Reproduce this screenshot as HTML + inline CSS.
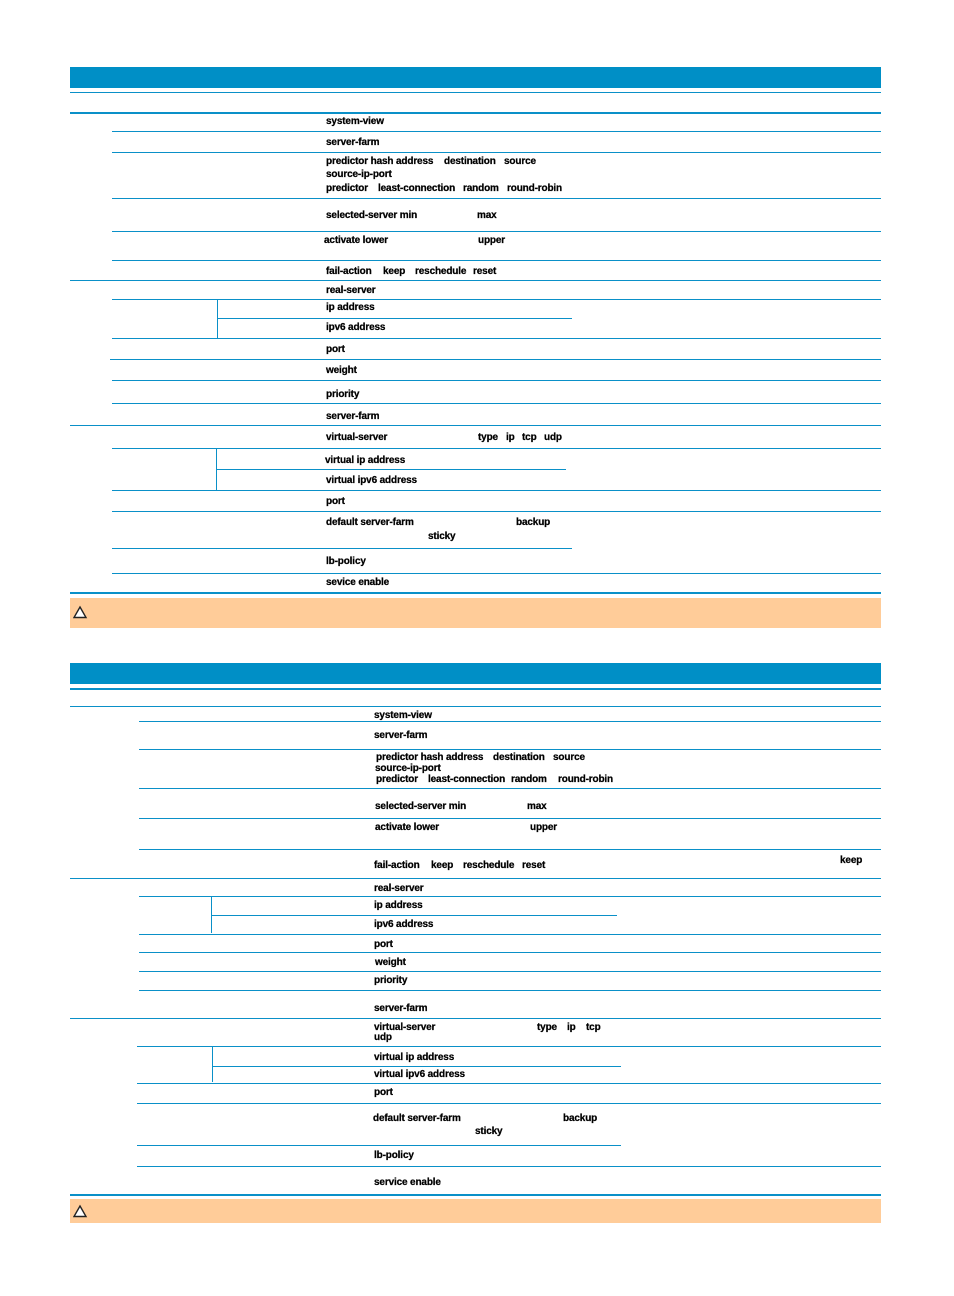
<!DOCTYPE html>
<html>
<head>
<meta charset="utf-8">
<style>
html,body{margin:0;padding:0;background:#fff;}
body{width:954px;height:1296px;position:relative;overflow:hidden;font-family:"Liberation Sans",sans-serif;}
.b{position:absolute;background:#0a90c8;}
.hd{position:absolute;background:#008fc6;}
.t{position:absolute;font-size:10px;font-weight:bold;line-height:12px;color:#000;white-space:pre;letter-spacing:-0.15px;margin-top:1px;-webkit-text-stroke:0.25px #000;}
.o{position:absolute;background:#ffcc99;}
</style>
</head>
<body>
<!-- TABLE 1 -->
<div class="hd" style="left:70px;top:67px;width:811px;height:21px;"></div>
<div class="b" style="left:70px;top:92px;width:811px;height:1px;"></div>
<div class="b" style="left:70px;top:112px;width:811px;height:2px;"></div>
<div class="b" style="left:112px;top:131px;width:769px;height:1px;"></div>
<div class="b" style="left:112px;top:152px;width:769px;height:1px;"></div>
<div class="b" style="left:112px;top:198px;width:769px;height:1px;"></div>
<div class="b" style="left:112px;top:231px;width:769px;height:1px;"></div>
<div class="b" style="left:112px;top:260px;width:769px;height:1px;"></div>
<div class="b" style="left:70px;top:280px;width:811px;height:1px;"></div>
<div class="b" style="left:112px;top:299px;width:769px;height:1px;"></div>
<div class="b" style="left:217px;top:299px;width:1px;height:40px;"></div>
<div class="b" style="left:217px;top:318px;width:355px;height:1px;"></div>
<div class="b" style="left:112px;top:338px;width:769px;height:1px;"></div>
<div class="b" style="left:110px;top:359px;width:771px;height:1px;"></div>
<div class="b" style="left:112px;top:380px;width:769px;height:1px;"></div>
<div class="b" style="left:112px;top:403px;width:769px;height:1px;"></div>
<div class="b" style="left:70px;top:425px;width:811px;height:1px;"></div>
<div class="b" style="left:112px;top:448px;width:769px;height:1px;"></div>
<div class="b" style="left:216px;top:448px;width:1px;height:42px;"></div>
<div class="b" style="left:216px;top:469px;width:350px;height:1px;"></div>
<div class="b" style="left:112px;top:490px;width:769px;height:1px;"></div>
<div class="b" style="left:112px;top:511px;width:769px;height:1px;"></div>
<div class="b" style="left:112px;top:548px;width:460px;height:1px;"></div>
<div class="b" style="left:112px;top:573px;width:769px;height:1px;"></div>
<div class="b" style="left:70px;top:592px;width:811px;height:2px;"></div>
<div class="o" style="left:70px;top:598px;width:811px;height:30px;"></div>
<svg style="position:absolute;left:73px;top:605px" width="15" height="15"><polygon points="7,2 13,12.5 1,12.5" fill="#fff" stroke="#222" stroke-width="1.4"/></svg>

<div class="t" style="left:326px;top:115px;">system-view</div>
<div class="t" style="left:326px;top:136px;">server-farm</div>
<div class="t" style="left:326px;top:155px;">predictor hash address</div>
<div class="t" style="left:444px;top:155px;">destination</div>
<div class="t" style="left:504px;top:155px;">source</div>
<div class="t" style="left:326px;top:168px;">source-ip-port</div>
<div class="t" style="left:326px;top:182px;">predictor</div>
<div class="t" style="left:378px;top:182px;">least-connection</div>
<div class="t" style="left:463px;top:182px;">random</div>
<div class="t" style="left:507px;top:182px;">round-robin</div>
<div class="t" style="left:326px;top:209px;">selected-server min</div>
<div class="t" style="left:477px;top:209px;">max</div>
<div class="t" style="left:324px;top:234px;">activate lower</div>
<div class="t" style="left:478px;top:234px;">upper</div>
<div class="t" style="left:326px;top:265px;">fail-action</div>
<div class="t" style="left:383px;top:265px;">keep</div>
<div class="t" style="left:415px;top:265px;">reschedule</div>
<div class="t" style="left:473px;top:265px;">reset</div>
<div class="t" style="left:326px;top:284px;">real-server</div>
<div class="t" style="left:326px;top:301px;">ip address</div>
<div class="t" style="left:326px;top:321px;">ipv6 address</div>
<div class="t" style="left:326px;top:343px;">port</div>
<div class="t" style="left:326px;top:364px;">weight</div>
<div class="t" style="left:326px;top:388px;">priority</div>
<div class="t" style="left:326px;top:410px;">server-farm</div>
<div class="t" style="left:326px;top:431px;">virtual-server</div>
<div class="t" style="left:478px;top:431px;">type</div>
<div class="t" style="left:506px;top:431px;">ip</div>
<div class="t" style="left:522px;top:431px;">tcp</div>
<div class="t" style="left:544px;top:431px;">udp</div>
<div class="t" style="left:325px;top:454px;">virtual ip address</div>
<div class="t" style="left:326px;top:474px;">virtual ipv6 address</div>
<div class="t" style="left:326px;top:495px;">port</div>
<div class="t" style="left:326px;top:516px;">default server-farm</div>
<div class="t" style="left:516px;top:516px;">backup</div>
<div class="t" style="left:428px;top:530px;">sticky</div>
<div class="t" style="left:326px;top:555px;">lb-policy</div>
<div class="t" style="left:326px;top:576px;">sevice enable</div>

<!-- TABLE 2 -->
<div class="hd" style="left:70px;top:663px;width:811px;height:21px;"></div>
<div class="b" style="left:70px;top:688px;width:811px;height:2px;"></div>
<div class="b" style="left:70px;top:706px;width:811px;height:1px;"></div>
<div class="b" style="left:139px;top:721px;width:742px;height:1px;"></div>
<div class="b" style="left:139px;top:749px;width:742px;height:1px;"></div>
<div class="b" style="left:139px;top:788px;width:742px;height:1px;"></div>
<div class="b" style="left:139px;top:818px;width:742px;height:1px;"></div>
<div class="b" style="left:139px;top:849px;width:742px;height:1px;"></div>
<div class="b" style="left:70px;top:878px;width:811px;height:1px;"></div>
<div class="b" style="left:139px;top:896px;width:742px;height:1px;"></div>
<div class="b" style="left:211px;top:896px;width:1px;height:37px;"></div>
<div class="b" style="left:211px;top:915px;width:406px;height:1px;"></div>
<div class="b" style="left:139px;top:934px;width:742px;height:1px;"></div>
<div class="b" style="left:139px;top:952px;width:742px;height:1px;"></div>
<div class="b" style="left:139px;top:971px;width:742px;height:1px;"></div>
<div class="b" style="left:139px;top:990px;width:742px;height:1px;"></div>
<div class="b" style="left:70px;top:1018px;width:811px;height:1px;"></div>
<div class="b" style="left:137px;top:1046px;width:744px;height:1px;"></div>
<div class="b" style="left:212px;top:1046px;width:1px;height:36px;"></div>
<div class="b" style="left:212px;top:1066px;width:409px;height:1px;"></div>
<div class="b" style="left:137px;top:1083px;width:744px;height:1px;"></div>
<div class="b" style="left:137px;top:1103px;width:744px;height:1px;"></div>
<div class="b" style="left:137px;top:1145px;width:484px;height:1px;"></div>
<div class="b" style="left:137px;top:1166px;width:744px;height:1px;"></div>
<div class="b" style="left:70px;top:1194px;width:811px;height:2px;"></div>
<div class="o" style="left:70px;top:1199px;width:811px;height:24px;"></div>
<svg style="position:absolute;left:73px;top:1204px" width="15" height="15"><polygon points="7,2 13,12.5 1,12.5" fill="#fff" stroke="#222" stroke-width="1.4"/></svg>

<div class="t" style="left:374px;top:709px;">system-view</div>
<div class="t" style="left:374px;top:729px;">server-farm</div>
<div class="t" style="left:376px;top:751px;">predictor hash address</div>
<div class="t" style="left:493px;top:751px;">destination</div>
<div class="t" style="left:553px;top:751px;">source</div>
<div class="t" style="left:375px;top:762px;">source-ip-port</div>
<div class="t" style="left:376px;top:773px;">predictor</div>
<div class="t" style="left:428px;top:773px;">least-connection</div>
<div class="t" style="left:511px;top:773px;">random</div>
<div class="t" style="left:558px;top:773px;">round-robin</div>
<div class="t" style="left:375px;top:800px;">selected-server min</div>
<div class="t" style="left:527px;top:800px;">max</div>
<div class="t" style="left:375px;top:821px;">activate lower</div>
<div class="t" style="left:530px;top:821px;">upper</div>
<div class="t" style="left:840px;top:854px;">keep</div>
<div class="t" style="left:374px;top:859px;">fail-action</div>
<div class="t" style="left:431px;top:859px;">keep</div>
<div class="t" style="left:463px;top:859px;">reschedule</div>
<div class="t" style="left:522px;top:859px;">reset</div>
<div class="t" style="left:374px;top:882px;">real-server</div>
<div class="t" style="left:374px;top:899px;">ip address</div>
<div class="t" style="left:374px;top:918px;">ipv6 address</div>
<div class="t" style="left:374px;top:938px;">port</div>
<div class="t" style="left:375px;top:956px;">weight</div>
<div class="t" style="left:374px;top:974px;">priority</div>
<div class="t" style="left:374px;top:1002px;">server-farm</div>
<div class="t" style="left:374px;top:1021px;">virtual-server</div>
<div class="t" style="left:537px;top:1021px;">type</div>
<div class="t" style="left:567px;top:1021px;">ip</div>
<div class="t" style="left:586px;top:1021px;">tcp</div>
<div class="t" style="left:374px;top:1031px;">udp</div>
<div class="t" style="left:374px;top:1051px;">virtual ip address</div>
<div class="t" style="left:374px;top:1068px;">virtual ipv6 address</div>
<div class="t" style="left:374px;top:1086px;">port</div>
<div class="t" style="left:373px;top:1112px;">default server-farm</div>
<div class="t" style="left:563px;top:1112px;">backup</div>
<div class="t" style="left:475px;top:1125px;">sticky</div>
<div class="t" style="left:374px;top:1149px;">lb-policy</div>
<div class="t" style="left:374px;top:1176px;">service enable</div>
</body>
</html>
